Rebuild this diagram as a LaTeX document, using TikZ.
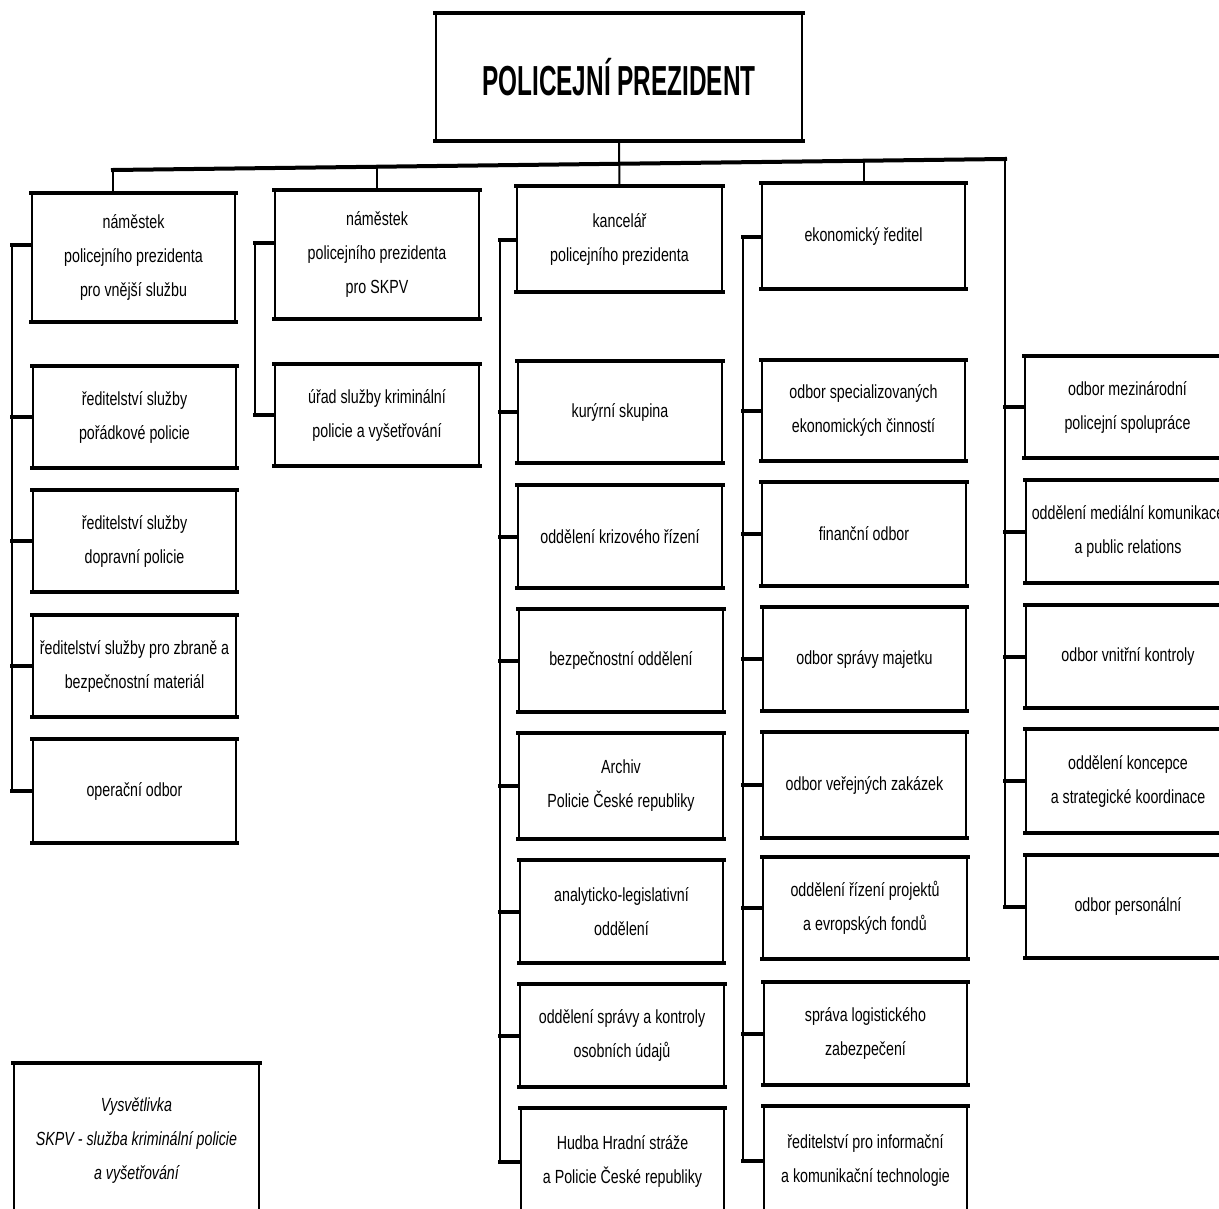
\documentclass[tikz,border=0pt]{standalone}
\usepackage{fontspec}
\setmainfont{Liberation Sans}[FakeStretch=0.75]
\newfontfamily\titlefont{Liberation Sans}[FakeStretch=0.58]
\newcommand\bodyfont{\fontsize{19}{34}\selectfont}
\tikzset{
  orgbox/.style={draw, rectangle, line width=2pt, inner sep=0pt, align=center, font=\bodyfont},
  hl/.style={line width=4pt, line cap=rect},
  vl/.style={line width=2pt},
}
\newcommand\obox[6]{%
  \node[orgbox, minimum width={(#4-#2)*1pt}, minimum height={(#5-#3)*1pt}] (#1) at ({(#2+#4)/2},{(#3+#5)/2}) {#6};
  \draw[hl] (#1.north west) -- (#1.north east) (#1.south west) -- (#1.south east);
}
\begin{document}
\begin{tikzpicture}[x=1pt,y=-1pt]
\useasboundingbox (0,0) rectangle (1219,1209);
\clip (0,0) rectangle (1219,1209);
\fill[white] (0,0) rectangle (1219,1209);

% top
\obox{top}{436}{14}{802}{140}{\titlefont\fontsize{42}{42}\selectfont\bfseries POLICEJNÍ PREZIDENT}

% column 1
\obox{c1h}{32}{194}{235}{321}{náměstek\\policejního prezidenta\\pro vnější službu}
\obox{c1a}{33}{367}{236}{467}{ředitelství služby\\pořádkové policie}
\obox{c1b}{33}{491}{236}{591}{ředitelství služby\\dopravní policie}
\obox{c1c}{33}{616}{236}{716}{ředitelství služby pro zbraně a\\bezpečnostní materiál}
\obox{c1d}{33}{740}{236}{842}{operační odbor}

% column 2
\obox{c2h}{275}{191}{479}{318}{náměstek\\policejního prezidenta\\pro SKPV}
\obox{c2a}{275}{365}{479}{465}{úřad služby kriminální\\policie a vyšetřování}

% column 3
\obox{c3h}{517}{187}{722}{291}{kancelář\\policejního prezidenta}
\obox{c3a}{518}{362}{722}{462}{kurýrní skupina}
\obox{c3b}{518}{486}{722}{587}{oddělení krizového řízení}
\obox{c3c}{519}{610}{723}{711}{bezpečnostní oddělení}
\obox{c3d}{519}{734}{723}{838}{Archiv\\Policie České republiky}
\obox{c3e}{520}{861}{723}{962}{analyticko-legislativní\\oddělení}
\obox{c3f}{520}{985}{724}{1086}{oddělení správy a kontroly\\osobních údajů}
\obox{c3g}{521}{1109}{724}{1214}{Hudba Hradní stráže\\a Policie České republiky}

% column 4
\obox{c4h}{762}{184}{965}{288}{ekonomický ředitel}
\obox{c4a}{762}{361}{965}{460}{odbor specializovaných\\ekonomických činností}
\obox{c4b}{762}{483}{966}{585}{finanční odbor}
\obox{c4c}{763}{608}{966}{710}{odbor správy majetku}
\obox{c4d}{763}{733}{966}{837}{odbor veřejných zakázek}
\obox{c4e}{763}{858}{967}{958}{oddělení řízení projektů\\a evropských fondů}
\obox{c4f}{764}{983}{967}{1084}{správa logistického\\zabezpečení}
\obox{c4g}{764}{1107}{967}{1214}{ředitelství pro informační\\a komunikační technologie}

% column 5
\obox{c5a}{1025}{357}{1230}{457}{odbor mezinárodní\\policejní spolupráce}
\obox{c5b}{1026}{481}{1230}{582}{oddělení mediální komunikace\\a public relations}
\obox{c5c}{1026}{606}{1230}{707}{odbor vnitřní kontroly}
\obox{c5d}{1026}{730}{1230}{832}{oddělení koncepce\\a strategické koordinace}
\obox{c5e}{1026}{856}{1230}{957}{odbor personální}

% legend
\node[orgbox, minimum width=245pt, minimum height=154pt, font=\bodyfont\itshape, anchor=north west] (legend) at (13,1063) {Vysvětlivka\\SKPV - služba kriminální policie\\a vyšetřování};
\draw[hl] (legend.north west) -- (legend.north east);

% bus
\coordinate (bL) at (113,170);
\coordinate (bR) at (1005,159);
\coordinate (b2) at (377,166.7);
\coordinate (b4) at (863.5,160.8);
\draw[hl] (bL) -- (bR);
\draw[vl] (bL) -- (bL |- c1h.north);
\draw[vl] (b2) -- (c2h.north);
\draw[vl] (top.south) -- (c3h.north);
\draw[vl] (b4) -- (c4h.north);

% column 1 spine
\coordinate (s1) at (12,245);
\draw[vl] (s1) -- (s1 |- c1d.west);
\draw[hl] (s1) -- (s1 -| c1h.west);
\foreach \n in {c1a,c1b,c1c,c1d} \draw[hl] (\n.west) -- (\n.west -| s1);

% column 2 spine
\coordinate (s2) at (255,243);
\draw[vl] (s2) -- (s2 |- c2a.west);
\draw[hl] (s2) -- (s2 -| c2h.west);
\draw[hl] (c2a.west) -- (c2a.west -| s2);

% column 3 spine
\coordinate (s3) at (500,240);
\draw[vl] (s3) -- (s3 |- c3g.west);
\draw[hl] (s3) -- (s3 -| c3h.west);
\foreach \n in {c3a,c3b,c3c,c3d,c3e,c3f,c3g} \draw[hl] (\n.west) -- (\n.west -| s3);

% column 4 spine
\coordinate (s4) at (743,237);
\draw[vl] (s4) -- (s4 |- c4g.west);
\draw[hl] (s4) -- (s4 -| c4h.west);
\foreach \n in {c4a,c4b,c4c,c4d,c4e,c4f,c4g} \draw[hl] (\n.west) -- (\n.west -| s4);

% column 5 spine
\draw[vl] (bR) -- (bR |- c5e.west);
\foreach \n in {c5a,c5b,c5c,c5d,c5e} \draw[hl] (\n.west) -- (\n.west -| bR);
\end{tikzpicture}
\end{document}
